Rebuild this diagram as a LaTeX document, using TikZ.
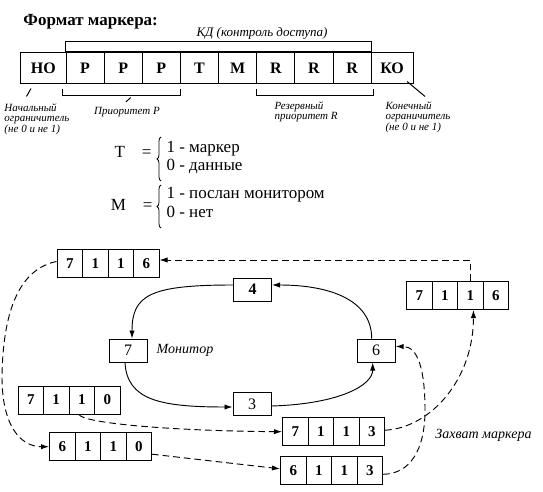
\documentclass[tikz,border=0pt]{standalone}
\usepackage{fontspec}
\setmainfont{Liberation Serif}
\usetikzlibrary{arrows.meta,calc,decorations.pathreplacing}
\newcommand\mktoken[7]{%
  \foreach \v [count=\i] in {#4,#5,#6,#7} {
    \node[tokcell] (#1-\i) at ({#2+12.75+25.5*(\i-1)},#3) {\v};
  }%
}
\begin{document}
\begin{tikzpicture}[x=0.75pt,y=-0.75pt,line width=0.75pt,
  every node/.style={inner sep=0pt},
  rowcell/.style={draw, minimum height=23.25pt, font=\bfseries\fontsize{12}{14}\selectfont},
  tokcell/.style={draw, minimum width=19.125pt, minimum height=21pt, font=\bfseries\fontsize{11.25}{13}\selectfont},
  ringnode/.style={draw, minimum width=28.5pt, minimum height=17.25pt, font=\fontsize{12}{14}\selectfont},
  lbl/.style={font=\itshape\fontsize{8.25}{7.8}\selectfont, align=left},
  ital/.style={font=\itshape\fontsize{10.5}{12}\selectfont},
  big/.style={font=\fontsize{12.75}{15}\selectfont},
  conn/.style={line width=0.7pt, -{Latex[length=6pt,width=4pt]}},
  dconn/.style={conn, dash pattern=on 5pt off 3pt},
  bracepath/.style={line width=0.6pt, decorate, decoration={brace, amplitude=3pt}}
]
\useasboundingbox (0,0) rectangle (543,492);

% title and KD label
\node[anchor=west, font=\bfseries\fontsize{12.75}{15}\selectfont] (title) at (23,22) {Формат маркера:};
\node[font=\itshape\fontsize{9.75}{12}\selectfont] (kd) at (262,33) {КД (контроль доступа)};

% marker format row
\node[rowcell, minimum width=34.125pt] (ho) at (43.25,68.5) {НО};
\foreach \t [count=\i] in {P,P,P,T,M,R,R,R}
  \node[rowcell, minimum width=28.6125pt] (c\i) at ({66+38.15*(\i-0.5)},68.5) {\t};
\node[rowcell, minimum width=31.35pt] (ko) at (392.1,68.5) {КО};

% brackets
\draw (c1.north west) -- ++(0,-11) -| (c8.north east);
\draw ($(c1.north west)+(0,-1)$) -- ($(c8.north east)+(0,-1)$);
\draw ($(c1.south west)+(-3,5)$) -- ++(0,6) -| ($(c3.south east)+(-0.5,5)$);
\draw ($(c6.south west)+(0,5)$) -- ++(0,6.5) -| ($(c8.south east)+(2,5)$);

% labels under row
\node[lbl, anchor=west] (lho) at (4,119) {Начальный\\ограничитель\\(не 0 и не 1)};
\node[lbl] (lp) at (127,111.7) {Приоритет Р};
\node[lbl, anchor=west] (lr) at (274,111.7) {Резервный\\приоритет R};
\node[lbl, anchor=west] (lko) at (385,117) {Конечный\\ограничитель\\(не 0 и не 1)};
\draw ($(ho.south)+(-12.25,4)$) -- ++(-4.5,8);
\draw ($(c2.south)+(7.5,13)$) -- ++(-4.7,4.3);
\draw ($(ko.south)+(15,-3)$) -- ++(18,15);

% T and M definitions
\node[big, anchor=east] (teq) at (152,152) {T\quad=};
\node[big, anchor=west] (t1) at (166,148.5) {1 - маркер};
\node[big, anchor=west] (t0) at (166,166.5) {0 - данные};
\draw[bracepath] (161,181) -- (161,137);
\node[big, anchor=east] (meq) at (153,205) {M\quad=};
\node[big, anchor=west] (m1) at (166,195) {1 - послан монитором};
\node[big, anchor=west] (m0) at (166,212) {0 - нет};
\draw[bracepath] (161,228) -- (161,185);

% tokens
\mktoken{A}{57}{263.5}{7}{1}{1}{6}
\mktoken{B}{406.7}{295.5}{7}{1}{1}{6}
\mktoken{C}{18}{400}{7}{1}{1}{0}
\mktoken{D}{282.5}{431.7}{7}{1}{1}{3}
\mktoken{E}{49.5}{446.7}{6}{1}{1}{0}
\mktoken{F}{280.5}{470.8}{6}{1}{1}{3}

% ring stations
\node[ringnode, font=\bfseries\fontsize{12}{14}\selectfont] (n4) at (252.5,289.5) {4};
\node[ringnode] (n7) at (128,350.5) {7};
\node[ringnode] (n6) at (376.2,350.5) {6};
\node[ringnode] (n3) at (252,404) {3};
\node[ital] (mon) at (185,350) {Монитор};
\node[ital] (cap) at (483.5,435) {Захват маркера};

% ring connectors
\draw[conn] ($(n4.west)+(0,-4.5)$) .. controls (150,285) and (132,295) .. ($(n7.north)+(4,0)$);
\draw[conn] ($(n7.south)+(-3,0)$) .. controls (127,400) and (160,407) .. ($(n3.west)+(0,3)$);
\draw[conn] ($(n3.east)+(0,2)$) .. controls (340,404) and (372.7,385) .. ($(n6.south)+(-3.5,0)$);
\draw[conn] ($(n6.north)+(-4.5,0)$) .. controls (371.7,300) and (330,285) .. ($(n4.east)+(0,-4.5)$);

% dashed token paths
\draw[dconn] (B-3.north) |- ($(A-4.east)+(0,-3.5)$);
\draw[dconn] ($(A-1.west)+(0,-2)$) .. controls (25,268) and (3,300) .. (2,377)
  .. controls (2,425) and (20,446.7) .. (E-1.west);
\draw[dconn] ($(C-3.south)+(-3,0)$) .. controls (85,424) and (180,431) .. (D-1.west);
\draw[dconn] ($(E-4.east)+(0,7.5)$) -- ($(F-1.west)+(0,-2)$);
\draw[dconn] ($(D-4.east)+(0,-1.5)$) .. controls (430,428) and (473.5,380) .. ($(B-3.south)+(3,0)$);
\draw[dconn] ($(F-4.east)+(0,3.5)$) .. controls (410,474) and (425,450) .. (425,410)
  .. controls (425,370) and (418,346.5) .. ($(n6.east)+(0,-4)$);
\end{tikzpicture}
\end{document}
